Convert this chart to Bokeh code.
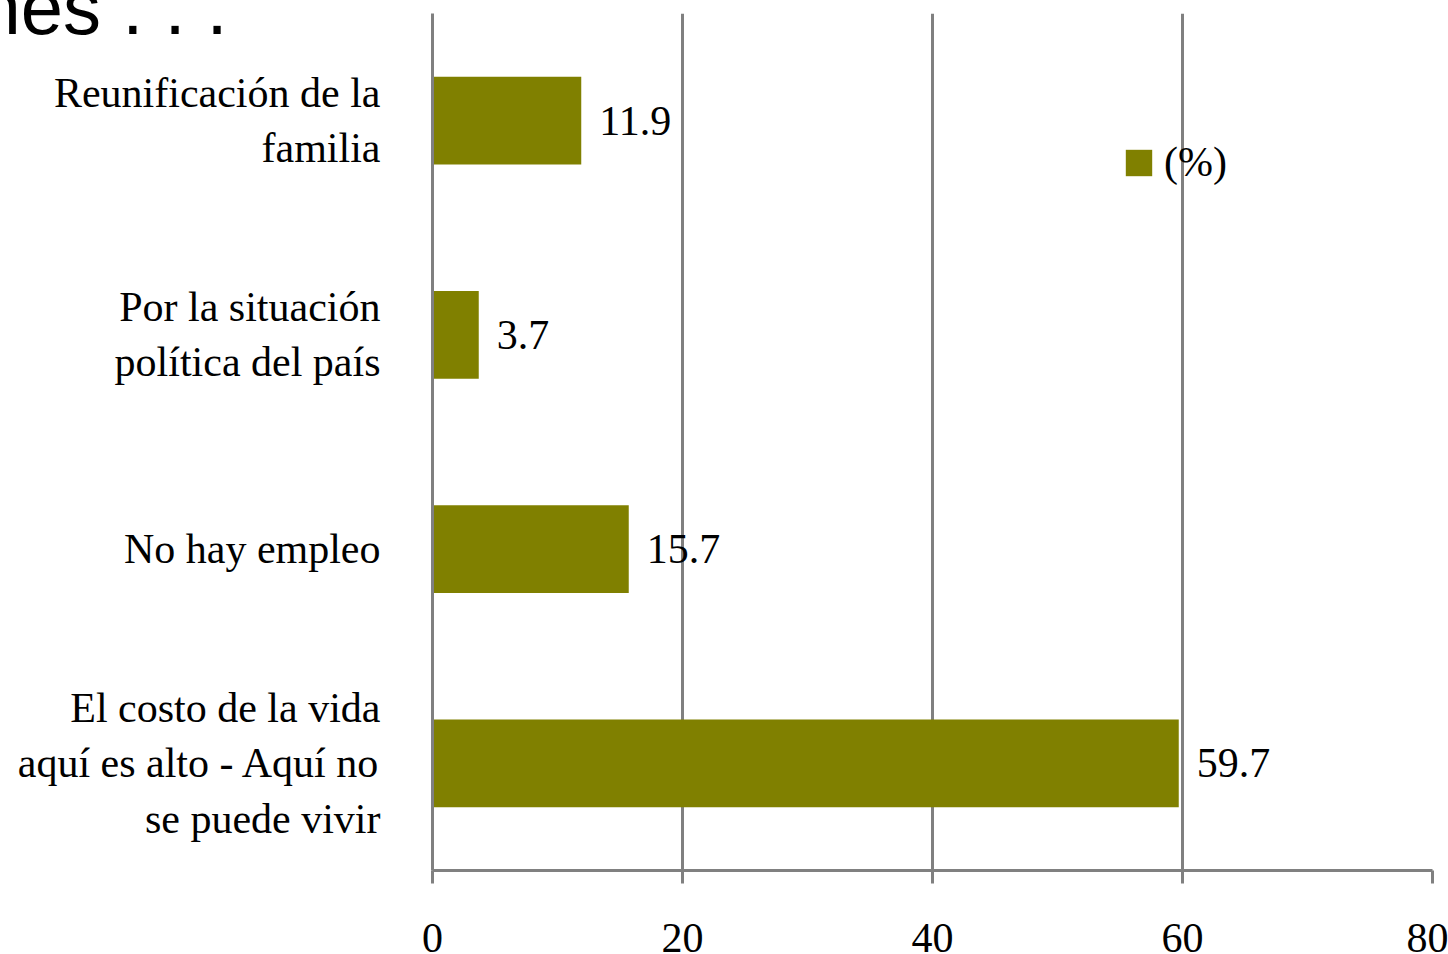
from bokeh.plotting import figure
from bokeh.models import (ColumnDataSource, LabelSet, FactorRange,
                          FixedTicker, Title)
from bokeh.core.properties import value
from bokeh.embed import file_html
from bokeh.resources import INLINE

# ---------------- data ----------------
categories = [
    "El costo de la vida\naquí es alto - Aquí no\nse puede vivir",
    "No hay empleo",
    "Por la situación\npolítica del país",
    "Reunificación de la\nfamilia",
]
values = [59.7, 15.7, 3.7, 11.9]
value_labels = ["59.7", "15.7", "3.7", "11.9"]
ticks = [0, 20, 40, 60, 80]
tick_labels = ["0", "20", "40", "60", "80"]
series_name = "(%)"
title_text = "nes . . ."

# ---------------- style ----------------
SERIF = "Liberation Serif"
SANS = "Liberation Sans"
OLIVE = "#808000"
GRID = "#808080"
FS = "42px"

p = figure(width=1448, height=954,
           y_range=FactorRange(factors=categories), x_range=(0, 80),
           output_backend="svg", toolbar_location=None,
           min_border_left=432, min_border_right=16,
           min_border_top=13, min_border_bottom=84)
p.outline_line_color = None
p.background_fill_color = "white"
p.border_fill_color = "white"

src = ColumnDataSource(dict(cat=categories, val=values, lbl=value_labels))
p.hbar(y="cat", left=0, right="val", height=0.41, source=src,
       fill_color=OLIVE, line_color=None, legend_label=series_name)

# grid
ticker = FixedTicker(ticks=ticks)
p.xaxis.ticker = ticker
p.xgrid.ticker = ticker
p.xgrid.grid_line_color = GRID
p.xgrid.grid_line_width = 3
p.ygrid.grid_line_color = None

# bottom axis
p.xaxis.axis_line_color = GRID
p.xaxis.axis_line_width = 3
p.xaxis.major_tick_line_color = GRID
p.xaxis.major_tick_line_width = 3
p.xaxis.major_tick_out = 13
p.xaxis.major_tick_in = 0
p.xaxis.minor_tick_line_color = None
p.xaxis.major_label_overrides = {t: s for t, s in zip(ticks, tick_labels)}
p.xaxis.major_label_standoff = 40
p.xaxis.major_label_text_font = SERIF
p.xaxis.major_label_text_font_size = FS
p.xaxis.major_label_text_color = "black"

# left axis
p.yaxis.axis_line_color = GRID
p.yaxis.axis_line_width = 3
p.yaxis.major_tick_line_color = None
p.yaxis.major_tick_out = 0
p.yaxis.major_tick_in = 0
p.yaxis.minor_tick_line_color = None
p.yaxis.major_label_standoff = 52
p.yaxis.major_label_text_font = SERIF
p.yaxis.major_label_text_font_size = FS
p.yaxis.major_label_text_color = "black"
p.yaxis.major_label_text_line_height = 1.2

# value labels
p.add_layout(LabelSet(x="val", y="cat", text="lbl", source=src,
                      x_offset=18, text_baseline="middle", text_align="left",
                      text_font=value(SERIF), text_font_size=FS,
                      text_color="black"))

# cropped heading at the top-left corner
p.add_layout(Title(text=title_text, text_font=SANS, text_font_size="76px",
                   text_font_style="normal", text_color="black",
                   align="left", vertical_align="top",
                   standoff=-76, offset=-454), "above")

# legend
lg = p.legend[0]
lg.location = (690, 684)
lg.padding = 0
lg.margin = 0
lg.border_line_color = None
lg.background_fill_alpha = 0
lg.glyph_width = 33
lg.glyph_height = 33
lg.label_standoff = 9
lg.label_text_font = SERIF
lg.label_text_font_size = FS
lg.label_text_color = "black"
lg.label_height = 33

open("out.html", "w").write(file_html(p, INLINE))
